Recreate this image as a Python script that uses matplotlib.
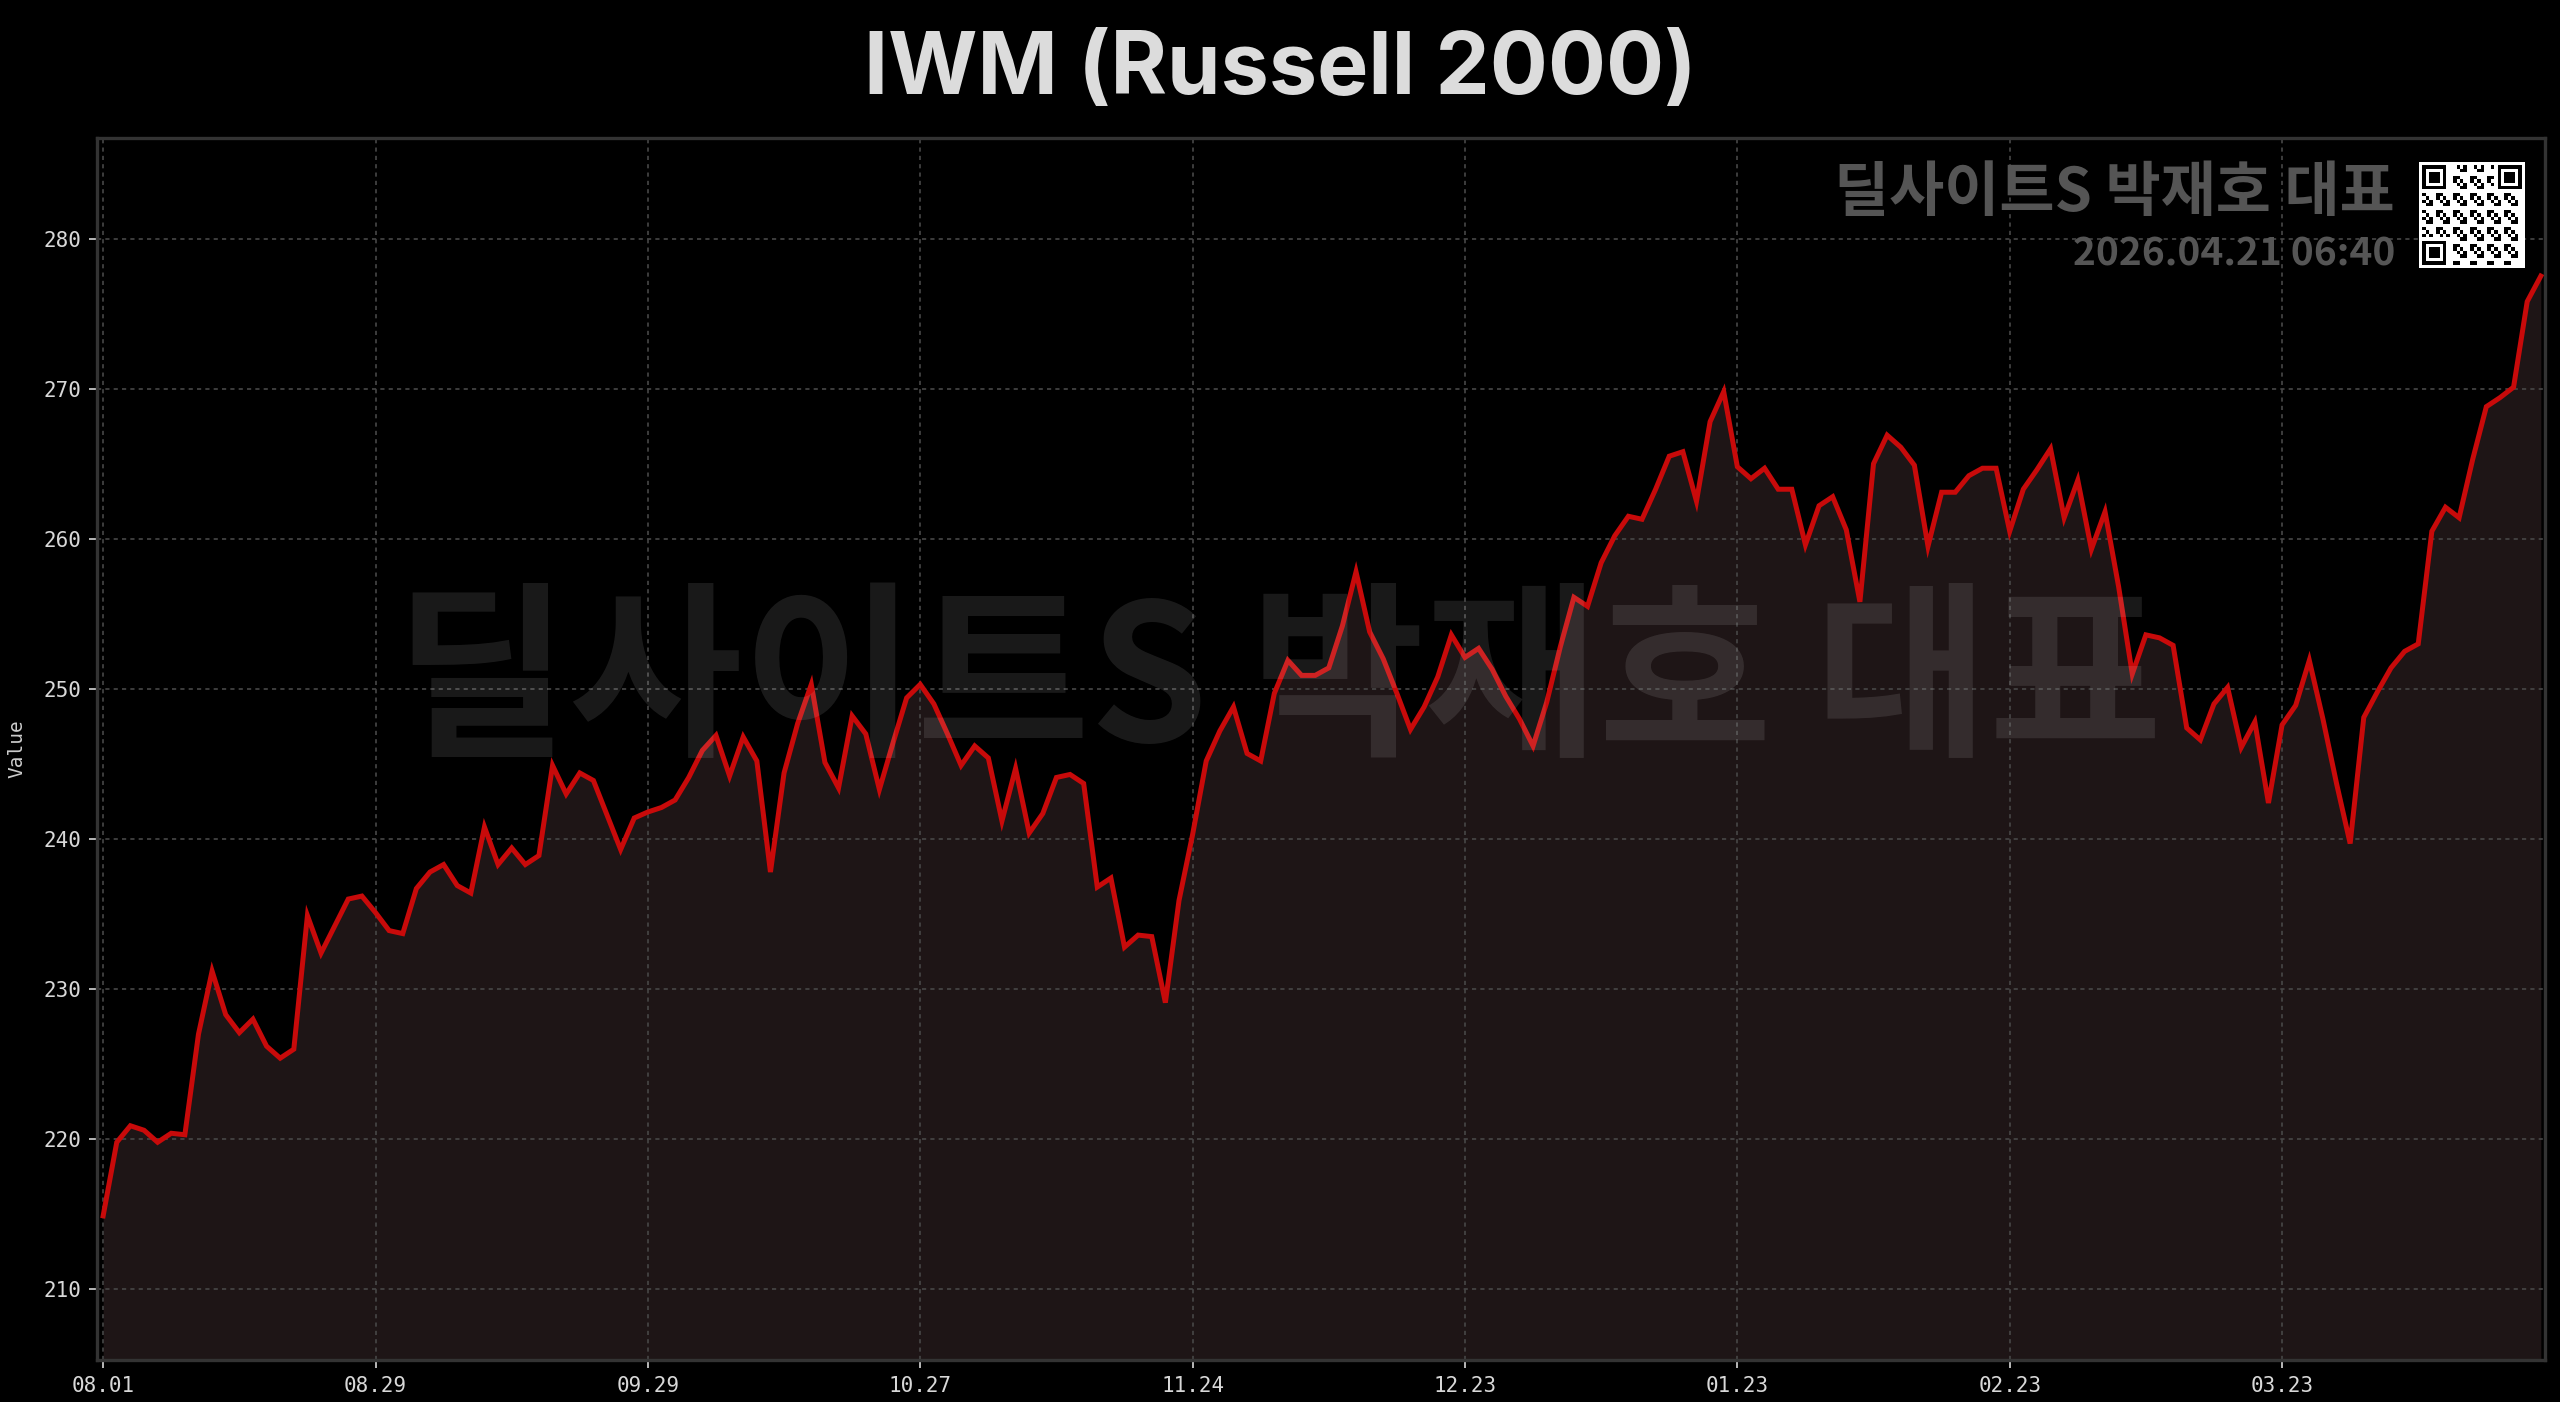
''' IWM (Russell 2000) closing prices, dark theme line chart with watermark. '''

import numpy as np
import matplotlib.pyplot as plt

# ---------------------------------------------------------------------------
# Data (daily closes, one value per trading day)
values = [
    214.9, 219.8, 220.9, 220.6, 219.8, 220.4, 220.3, 227.0, 231.2, 228.3,
    227.1, 228.0, 226.2, 225.4, 226.0, 234.9, 232.4, 234.2, 236.0, 236.2,
    235.1, 233.9, 233.7, 236.7, 237.8, 238.3, 236.9, 236.4, 240.8, 238.3,
    239.4, 238.3, 238.9, 244.9, 243.0, 244.4, 243.9, 241.6, 239.3, 241.4,
    241.8, 242.1, 242.6, 244.1, 245.9, 246.9, 244.2, 246.8, 245.2, 237.8,
    244.4, 247.7, 250.3, 245.1, 243.4, 248.2, 247.0, 243.3, 246.4, 249.4,
    250.3, 249.0, 247.0, 244.9, 246.2, 245.4, 241.2, 244.7, 240.4, 241.7,
    244.1, 244.3, 243.7, 236.8, 237.4, 232.8, 233.6, 233.5, 229.1, 235.9,
    240.3, 245.2, 247.2, 248.8, 245.7, 245.2, 249.7, 251.9, 250.9, 250.9,
    251.4, 254.2, 257.8, 253.8, 252.0, 249.7, 247.3, 248.8, 250.8, 253.6,
    252.1, 252.7, 251.3, 249.5, 248.0, 246.2, 249.1, 252.8, 256.1, 255.5,
    258.4, 260.2, 261.5, 261.3, 263.3, 265.5, 265.8, 262.5, 267.8, 269.8,
    264.8, 264.0, 264.7, 263.3, 263.3, 259.6, 262.2, 262.8, 260.6, 255.8,
    265.0, 266.9, 266.1, 264.9, 259.5, 263.1, 263.1, 264.2, 264.7, 264.7,
    260.5, 263.3, 264.6, 266.0, 261.4, 263.9, 259.3, 261.8, 256.8, 251.0,
    253.6, 253.4, 252.9, 247.4, 246.6, 249.0, 250.1, 246.1, 247.8, 242.4,
    247.6, 248.9, 251.9, 248.0, 243.7, 239.7, 248.1, 249.8, 251.4, 252.5,
    253.0, 260.5, 262.1, 261.4, 265.3, 268.8, 269.4, 270.1, 275.8, 277.5,
]
tick_labels = ['08.01', '08.29', '09.29', '10.27', '11.24',
               '12.23', '01.23', '02.23', '03.23']
tick_step = 20          # one label every 20 trading days
y_ticks = [210, 220, 230, 240, 250, 260, 270, 280]

title = 'IWM (Russell 2000)'
brand = '딜사이트S 박재호 대표'
stamp = '2026.04.21 06:40'

# fonts
KR = ['Noto Sans CJK KR', 'DejaVu Sans']
MONO = 'DejaVu Sans Mono'


#----------------------------------------------------------------------
def qr_pattern(n=29):
    """A QR-looking module grid (decoration only)"""
    r, c = np.indices((n, n))
    grid = ((r * 7 + c * 13 + r * c) % 5 < 2)
    # three finder squares with a white separator
    for (r0, c0) in [(0, 0), (0, n - 7), (n - 7, 0)]:
        f = np.zeros((7, 7), bool)
        f[0, :] = f[-1, :] = f[:, 0] = f[:, -1] = True
        f[2:5, 2:5] = True
        grid[max(r0 - 1, 0):min(r0 + 8, n), max(c0 - 1, 0):min(c0 + 8, n)] = False
        grid[r0:r0 + 7, c0:c0 + 7] = f
    return np.pad(grid, 1, constant_values=False)


#----------------------------------------------------------------------
def show_chart():
    """Draw the price line with dark fill, grid and watermarks"""

    fig = plt.figure(figsize=(12.8, 7.01), dpi=200, facecolor='black')
    ax = fig.add_axes([0.0379, 0.030, 0.9562, 0.8716])
    ax.set_facecolor('black')

    x = np.arange(len(values))
    y = np.array(values)
    y_lo, y_hi = 205.3, 286.7

    ax.fill_between(x, y, y_lo, color='#1e1516', lw=0, zorder=1)
    ax.plot(x, y, color='#c80a0a', lw=1.8, zorder=3, solid_joinstyle='miter')

    # big watermark in the middle
    fig.text(0.4996, 0.511, brand, ha='center', va='center', fontsize=68,
             weight=900, family=KR, color='white', alpha=0.1, zorder=1.2)

    ax.set_xlim(-0.45, len(values) - 0.7)
    ax.set_ylim(y_lo, y_hi)
    ax.set_xticks(np.arange(len(tick_labels)) * tick_step)
    ax.set_xticklabels(tick_labels)
    ax.set_yticks(y_ticks)

    ax.grid(True, color='#474747', lw=0.6, ls=(0, (2.5, 2.5)), zorder=1.5)
    for s in ax.spines.values():
        s.set_color('#333333')
        s.set_linewidth(1.2)
    ax.tick_params(colors='#d8d8d8', labelsize=7.5, length=2.8, width=0.6,
                   pad=3)
    for lab in ax.get_xticklabels() + ax.get_yticklabels():
        lab.set_family(MONO)
    ax.set_ylabel('Value', family=MONO, fontsize=7, color='#cccccc',
                  labelpad=6)

    # title and brand stamp
    fig.text(0.5, 0.949, title, ha='center', va='center', fontsize=31,
             weight='bold', family=['Inter', 'DejaVu Sans'], color='#dcdcdc')
    fig.text(0.9355, 0.862, brand, ha='right', va='center', fontsize=21.6,
             weight=900, family=KR, color='#555555')
    fig.text(0.9355, 0.819, stamp, ha='right', va='center', fontsize=14,
             weight=900, family=KR, color='#555555')

    # QR code box
    qax = fig.add_axes([2418 / 2560, 1 - 268 / 1402, 108 / 2560, 106 / 1402])
    qax.imshow(~qr_pattern(), cmap='gray', interpolation='nearest',
               vmin=0, vmax=1)
    qax.axis('off')

    fig.savefig('out.png', dpi=200, facecolor='black')


# -----------------------------------------------------------------------------------
if __name__ == '__main__':
    show_chart()
